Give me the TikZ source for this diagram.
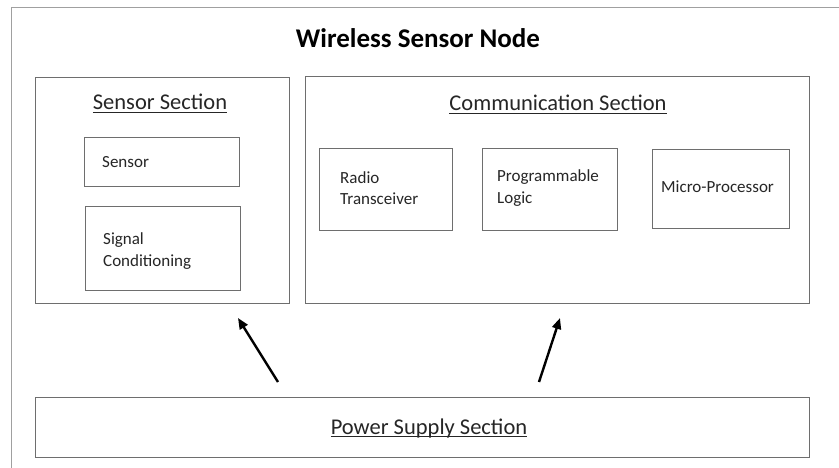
\documentclass[tikz,border=0pt]{standalone}
\usepackage{fontspec}
\setmainfont{Carlito}
\usetikzlibrary{arrows.meta}
\definecolor{boxgray}{HTML}{6E6E6E}
\definecolor{framegray}{HTML}{A0A0A0}
\definecolor{txt}{HTML}{262626}
\newlength\ulwidth
\newcommand\myul[1]{\settowidth\ulwidth{#1}\rlap{\rule[-2.8pt]{\ulwidth}{1.1pt}}#1}
\begin{document}
\begin{tikzpicture}[x=1pt,y=-1pt,
  box/.style={draw=boxgray, line width=1pt, inner sep=0pt},
  lbl/.style={anchor=west, inner sep=0pt, align=left, font=\fontsize{17}{21.5}\selectfont, text=txt},
  sect/.style={anchor=base, inner sep=0pt, font=\fontsize{22.5}{27}\selectfont, text=txt},
  pow/.style={-{Triangle[length=11pt,width=9pt]}, line width=2.4pt}]
\useasboundingbox (0,0) rectangle (839,468);
\fill[white] (0,0) rectangle (839,468);
\draw[framegray, line width=1pt] (11,468) -- (11,8) -- (839,8);
\node[font=\bfseries\fontsize{27}{32}\selectfont, inner sep=0pt, text=black] (title) at (418,38) {Wireless Sensor Node};

% section boxes
\node[box, minimum width=254pt, minimum height=225pt] (sensec) at (162,190.5) {};
\node[box, minimum width=504pt, minimum height=226pt] (comsec) at (557,190) {};
\node[box, minimum width=774pt, minimum height=60pt] (power) at (422,427) {};
\node[sect] (sentitle) at (160,110) {\myul{Sensor Section}};
\node[sect] (comtitle) at (558,111) {\myul{Communication Section}};
\node[sect] (powtitle) at (429,434) {\myul{Power Supply Section}};

% inner boxes
\node[box, minimum width=155pt, minimum height=49pt] (sensor) at (161.5,162.5) {};
\node[box, minimum width=155pt, minimum height=83pt] (signal) at (162.5,248.5) {};
\node[box, minimum width=133pt, minimum height=82pt] (radio) at (385.5,190) {};
\node[box, minimum width=135pt, minimum height=82pt] (prog) at (549.5,190) {};
\node[box, minimum width=137pt, minimum height=79pt] (micro) at (720.5,189.5) {};

\node[lbl] (sensorT) at (102,162) {Sensor};
\node[lbl] (signalT) at (103,251) {Signal\\Conditioning};
\node[lbl] (radioT) at (340,188) {Radio\\Transceiver};
\node[lbl] (progT) at (497,188) {Programmable\\Logic};
\node[lbl] (microT) at (661,187) {Micro-Processor};

% arrows
\coordinate (p1) at (278,382);
\coordinate (s1) at (238,318);
\coordinate (p2) at (539,382);
\coordinate (c2) at (560,318);
\draw[pow] (p1) -- (s1);
\draw[pow] (p2) -- (c2);
\end{tikzpicture}
\end{document}
